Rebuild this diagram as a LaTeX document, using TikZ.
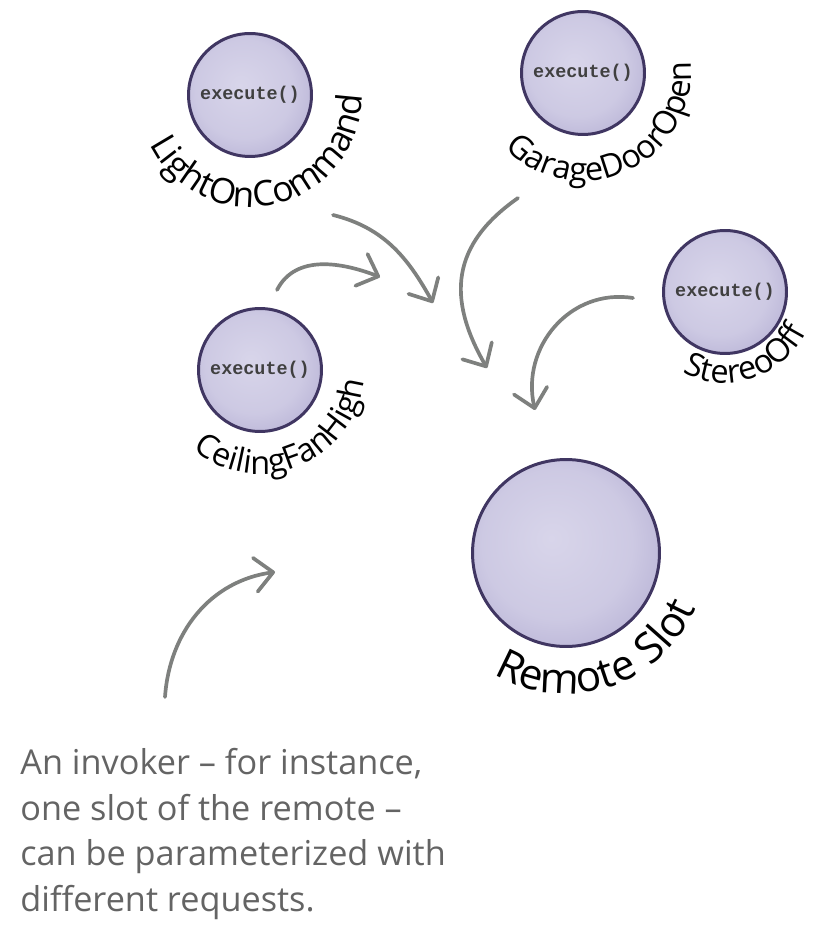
\documentclass[tikz,border=0pt]{standalone}
\usepackage{fontspec}
\setmainfont{Open Sans}
\setmonofont{Liberation Mono}
\newfontfamily\namefont[LetterSpace=7]{Open Sans}
\usepackage{xcolor}
\definecolor{ballin}{RGB}{216,213,234}
\definecolor{ballmid}{RGB}{172,166,206}
\definecolor{ballout}{RGB}{116,106,158}
\definecolor{ballline}{RGB}{64,54,98}
\definecolor{arrowgray}{RGB}{126,128,126}
\definecolor{notegray}{RGB}{100,100,100}
\usepackage{tikz}
\usetikzlibrary{arrows.meta,positioning,decorations.text}
\pgfdeclareradialshading{ballshade}{\pgfpoint{-4bp}{4bp}}{color(0bp)=(ballin); color(20bp)=(ballin!75!ballmid); color(38bp)=(ballmid); color(50bp)=(ballout)}
\tikzset{
  cmd ball/.style={circle, shading=ballshade, draw=ballline, line width=1.7pt, minimum size=2.46cm, inner sep=0pt, font=\fontsize{10.5}{12}\selectfont\ttfamily\bfseries, text=black!75},
  cmd label/.style 2 args={decorate, decoration={text along path, text align=center, text={|\namefont\fontsize{#1}{#1}\selectfont|#2}}},
  cmd arrow/.style={-{Straight Barb[length=3.6mm, width=6.8mm, round]}, arrowgray, line width=2.1pt, line cap=round},
  cmd note/.style={font=\fontsize{19.5}{26}\selectfont, text=notegray, align=left, anchor=north west, inner sep=0pt},
}
\begin{document}
\begin{tikzpicture}[x=0.02cm, y=0.02cm]
  \useasboundingbox (0,0) rectangle (814,-928);
  % command objects
  \node[cmd ball] (light) at (250,-95) {execute()};
  \node[cmd ball] (garage) at (583,-73) {execute()};
  \node[cmd ball] (fan) at (260,-370) {execute()};
  \node[cmd ball] (stereo) at (725,-292) {execute()};
  \node[cmd ball, minimum size=3.74cm] (slot) at (566,-553) {};
  % curved names
  \path[cmd label={20}{LightOnCommand}] (light.center) ++(196:112) arc[start angle=196, end angle=370, radius=112];
  \path[cmd label={18.5}{GarageDoorOpen}] (garage.center) ++(214:108) arc[start angle=214, end angle=376, radius=108];
  \path[cmd label={18.5}{CeilingFanHigh}] (fan.center) ++(212:104) arc[start angle=212, end angle=372, radius=104];
  \path[cmd label={18.5}{StereoOff}] (stereo.center) ++(226:91) arc[start angle=226, end angle=350, radius=91];
  \path[cmd label={24}{Remote Slot}] (slot.center) ++(230:141) arc[start angle=230, end angle=346, radius=141];
  % arrows into the slot
  \coordinate (lightS) at (333,-215);
  \coordinate (lightE) at (433,-303);
  \coordinate (garageS) at (518,-198);
  \coordinate (garageE) at (487,-368);
  \coordinate (stereoS) at (633,-298);
  \coordinate (stereoE) at (535,-410);
  \coordinate (fanS) at (277,-290);
  \coordinate (fanE) at (380,-277);
  \coordinate (noteS) at (165,-697);
  \coordinate (noteE) at (275,-572);
  \draw[cmd arrow] (lightS) to[out=-14, in=119] (lightE);
  \draw[cmd arrow] (garageS) to[out=215, in=120, looseness=1.2] (garageE);
  \draw[cmd arrow] (stereoS) to[out=171, in=103, looseness=1.1] (stereoE);
  \draw[cmd arrow] (fanS) to[out=63, in=159] (fanE);
  \draw[cmd arrow] (noteS) to[out=86, in=188] (noteE);
  % the note
  \node[cmd note] (note) at (20,-748) {An invoker -- for instance,\\one slot of the remote --\\can be parameterized with\\different requests.};
\end{tikzpicture}
\end{document}
